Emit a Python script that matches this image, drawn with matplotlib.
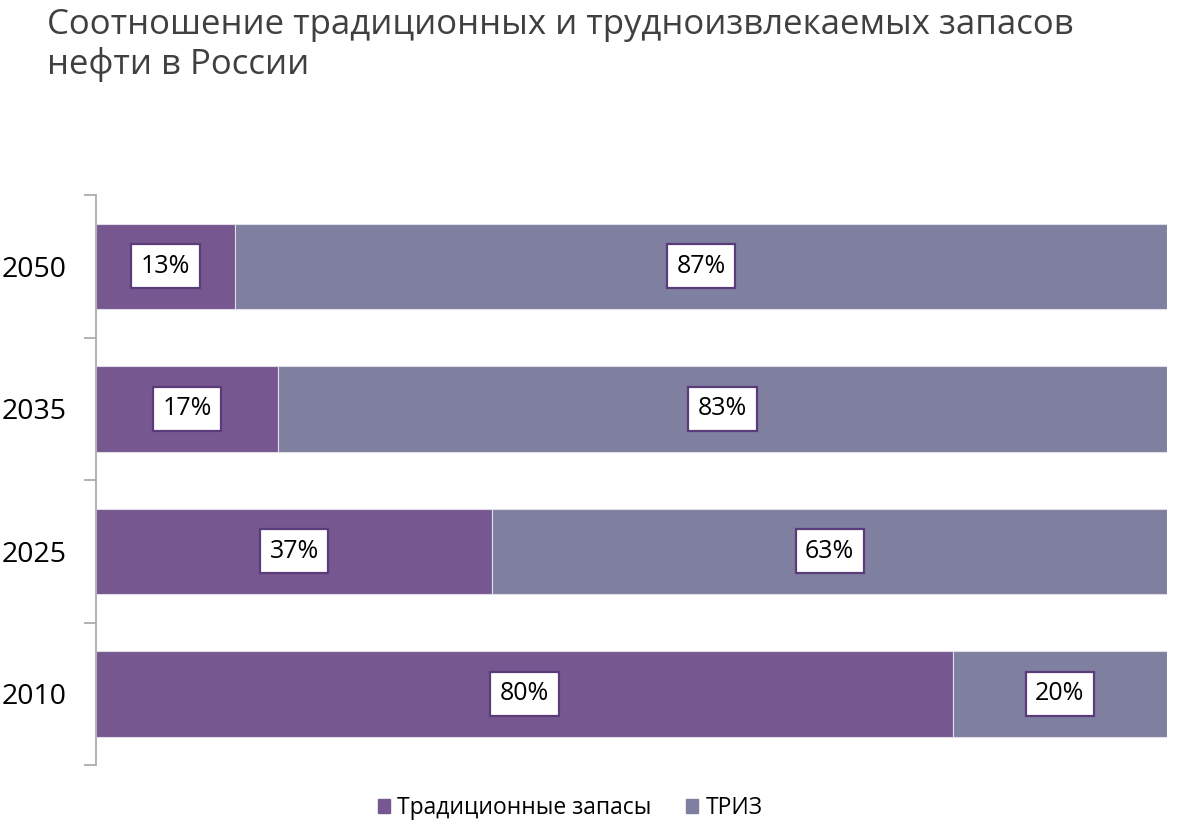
import numpy as np
import matplotlib.pyplot as plt
from matplotlib.patches import Patch

plt.rcParams['font.family'] = ['Open Sans', 'DejaVu Sans']

years = ['2010', '2025', '2035', '2050']
traditional = [80, 37, 17, 13]
triz = [20, 63, 83, 87]
series_names = ['Традиционные запасы', 'ТРИЗ']

c_trad = '#775790'
c_triz = '#7f7f9f'

fig = plt.figure(figsize=(11.96, 8.31), dpi=100)
ax = fig.add_axes([96/1196, 1 - 765/831, 1071/1196, 570/831])

y = np.arange(len(years))
h = 0.6
ax.barh(y, traditional, height=h, color=c_trad, edgecolor='#e0dce8', linewidth=0.8)
ax.barh(y, triz, left=traditional, height=h, color=c_triz, edgecolor='#e0dce8', linewidth=0.8)

box = dict(boxstyle='square,pad=0.38', facecolor='white', edgecolor='#5a3c7a', linewidth=1.6)
for i in range(len(years)):
    ax.text(traditional[i] / 2, y[i], f'{traditional[i]}%', ha='center', va='center',
            fontsize=18, color='black', bbox=box)
    ax.text(traditional[i] + triz[i] / 2, y[i], f'{triz[i]}%', ha='center', va='center',
            fontsize=18, color='black', bbox=box)

ax.set_xlim(0, 100)
ax.set_ylim(-0.5, len(years) - 0.5)
ax.set_xticks([])
ax.set_yticks(y)
ax.set_yticklabels(years, fontsize=20.5, color='black')
ax.tick_params(axis='y', which='major', length=0, pad=21)
ax.set_yticks(np.arange(-0.5, len(years)), minor=True)
ax.tick_params(axis='y', which='minor', length=9, color='#a6a6a6', width=1.2)
for s in ['top', 'right', 'bottom']:
    ax.spines[s].set_visible(False)
ax.spines['left'].set_color('#a6a6a6')
ax.spines['left'].set_linewidth(1.2)

fig.text(47/1196, 1 - 8/831, 'Соотношение традиционных и трудноизвлекаемых запасов\nнефти в России',
         ha='left', va='top', fontsize=25, color='#404040', linespacing=1.17)

handles = [Patch(color=c_trad), Patch(color=c_triz)]
fig.legend(handles, series_names, loc='center', bbox_to_anchor=(570/1196, 1 - 808/831),
           ncol=2, frameon=False, fontsize=16.5, handlelength=0.55, handleheight=0.55,
           handletextpad=0.3, columnspacing=1.5)

fig.savefig('out.png', dpi=100)
